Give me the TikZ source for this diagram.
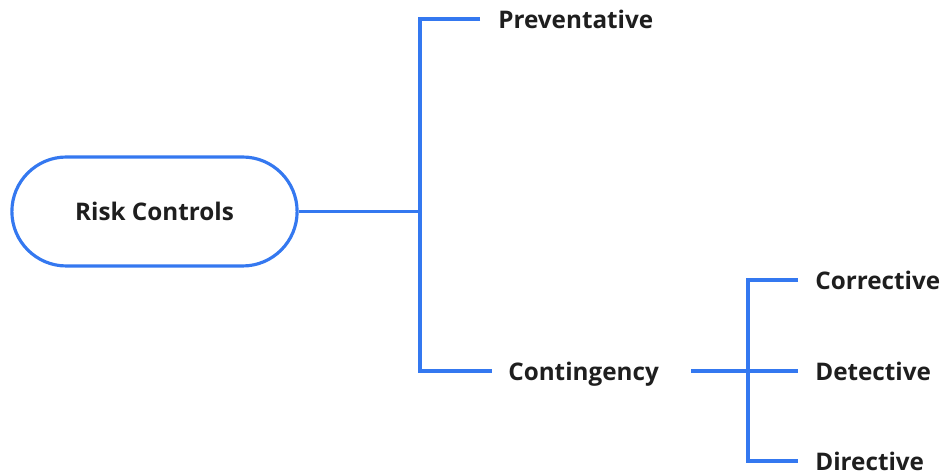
\documentclass[tikz,border=0pt]{standalone}
\usepackage{fontspec}
\setmainfont{Open Sans}
\usepackage{tikz}
\usetikzlibrary{positioning}
\usetikzlibrary{shapes.misc}
\definecolor{branchColor}{RGB}{52,120,240}
\definecolor{labelColor}{RGB}{30,30,30}

\begin{document}
\begin{tikzpicture}[x=0.02cm,y=-0.02cm]

          \tikzstyle{rootNode} = [draw=branchColor, line width=1.8pt, rounded rectangle,
                                  minimum width=5.94cm, minimum height=2.18cm,
                                  font=\fontsize{13.8}{16}\selectfont\bfseries, text=labelColor];
          \tikzstyle{leafNode} = [anchor=west, inner sep=0pt, text depth=0pt,
                                  font=\fontsize{13.8}{16}\selectfont\bfseries, text=labelColor];
          \tikzstyle{branchEdge} = [line width=1.8pt, branchColor];

          \useasboundingbox (0,0) rectangle (940,475);

          \node[rootNode] (risk) at (154.5,211.5) {Risk Controls};
          \node[leafNode] (prev) at (498,19) {Preventative};
          \node[leafNode] (cont) at (508,371) {Contingency};
          \node[leafNode] (corr) at (815,280) {Corrective};
          \node[leafNode] (dete) at (815,371) {Detective};
          \node[leafNode] (dire) at (815,461) {Directive};

          \coordinate (trunk) at (420,211.5);
          \coordinate (trunkTop) at (420,19);
          \coordinate (trunkBot) at (420,371);
          \coordinate (subTop) at (748,280);
          \coordinate (subMid) at (748,371);
          \coordinate (subBot) at (748,461);

          \draw[branchEdge] (risk.east) -- (trunk);
          \draw[branchEdge] ([xshift=-18*0.02cm]prev.west) -- (trunkTop) -- (trunkBot)
                            -- ([xshift=-16*0.02cm]cont.west);
          \draw[branchEdge] ([xshift=32*0.02cm]cont.east) -- ([xshift=-17*0.02cm]dete.west);
          \draw[branchEdge] ([xshift=-17*0.02cm]corr.west) -- (subTop) -- (subBot)
                            -- ([xshift=-17*0.02cm]dire.west);

        \end{tikzpicture}
\end{document}
